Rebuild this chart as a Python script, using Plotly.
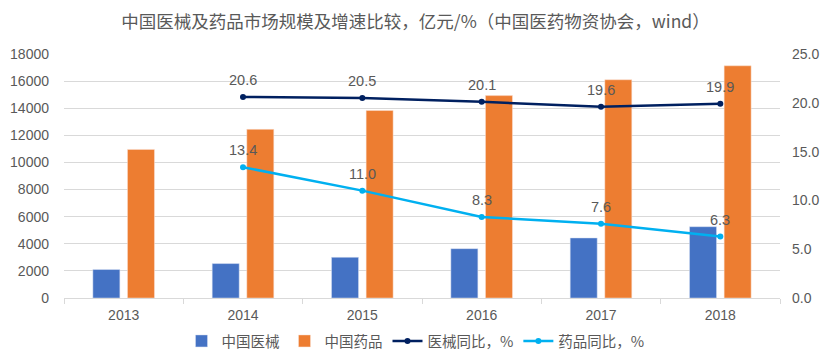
import plotly.graph_objects as go

years = ["2013", "2014", "2015", "2016", "2017", "2018"]
device_market = [2100, 2540, 3000, 3640, 4430, 5260]
drug_market = [10960, 12440, 13830, 14930, 16100, 17130]
line_years = ["2014", "2015", "2016", "2017", "2018"]
device_yoy = [20.6, 20.5, 20.1, 19.6, 19.9]
drug_yoy = [13.4, 11.0, 8.3, 7.6, 6.3]

FONT = "Liberation Sans, Arial, Noto Sans CJK SC, sans-serif"
CJK = "Noto Sans CJK SC, sans-serif"
GRAY = "#595959"
W, H = 831, 361

fig = go.Figure()
fig.add_trace(go.Bar(x=years, y=device_market, name="中国医械",
                     marker=dict(color="#4472C4", line=dict(color="#D9E1F2", width=0.5))))
fig.add_trace(go.Bar(x=years, y=drug_market, name="中国药品",
                     marker=dict(color="#ED7D31", line=dict(color="#FBE3D6", width=0.5))))
fig.add_trace(go.Scatter(x=line_years, y=device_yoy, name="医械同比，%", yaxis="y2",
                         mode="lines+markers",
                         line=dict(color="#002060", width=2.5), marker=dict(size=6, color="#002060")))
fig.add_trace(go.Scatter(x=line_years, y=drug_yoy, name="药品同比，%", yaxis="y2",
                         mode="lines+markers",
                         line=dict(color="#00B0F0", width=2.5), marker=dict(size=6, color="#00B0F0")))

# data labels: category axes index categories by position
for series in (device_yoy, drug_yoy):
    for xv, yv in zip(line_years, series):
        fig.add_annotation(x=years.index(xv), y=yv, xref="x", yref="y2", text=f"{yv:.1f}",
                           showarrow=False, yshift=17, yanchor="middle",
                           font=dict(color=GRAY, size=14.5, family=FONT))

fig.update_layout(
    template="none",
    width=W, height=H,
    margin=dict(l=64, r=51, t=54, b=63, autoexpand=False),
    paper_bgcolor="white", plot_bgcolor="white",
    font=dict(family=FONT, color=GRAY, size=14),
    title=dict(text="中国医械及药品市场规模及增速比较，亿元/%（中国医药物资协会，wind）",
               x=0.5, xref="container", xanchor="center", y=1 - 22 / H, yref="container",
               yanchor="middle", font=dict(size=17.5, color=GRAY, family=CJK)),
    barmode="group", bargap=0.42, bargroupgap=0.22,
    showlegend=True,
    legend=dict(orientation="h", x=0.5, xref="container", xanchor="center",
                y=1 - 341 / H, yref="container", yanchor="middle",
                font=dict(size=14.5, color=GRAY, family=CJK), bgcolor="rgba(0,0,0,0)",
                itemwidth=30, traceorder="normal"),
    xaxis=dict(type="category", categoryorder="array", categoryarray=years,
               showline=True, linecolor="#D9D9D9", linewidth=1,
               ticks="outside", tickson="boundaries", tickcolor="#D9D9D9", ticklen=5,
               tickfont=dict(size=14, color=GRAY), tickangle=0, showgrid=False, zeroline=False,
               ticklabelstandoff=4, automargin=False),
    yaxis=dict(range=[0, 18000], dtick=2000, tickformat="d", showgrid=True, gridcolor="#D9D9D9",
               gridwidth=1, zeroline=False, showline=False, ticks="",
               tickfont=dict(size=14, color=GRAY), ticklabelstandoff=14, automargin=False),
    yaxis2=dict(range=[0, 25], dtick=5, overlaying="y", side="right", showgrid=False,
                zeroline=False, showline=False, ticks="", tickformat=".1f",
                tickfont=dict(size=14, color=GRAY), ticklabelstandoff=11, automargin=False),
)

fig.write_html("out.html", config={"displayModeBar": False},
               post_script="document.body.style.margin='0';")
